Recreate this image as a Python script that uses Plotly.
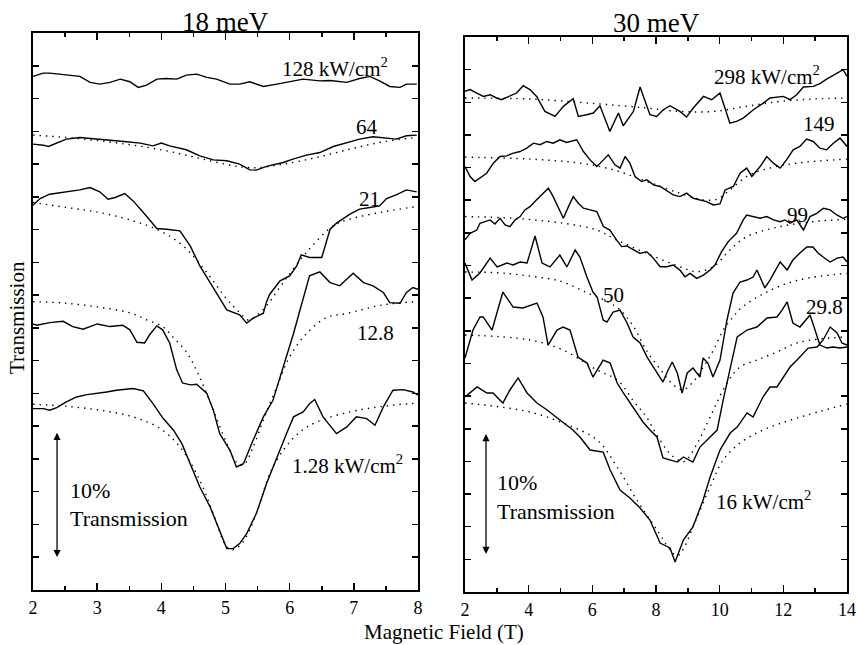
import plotly.graph_objects as go

# ---------------- 18 meV panel (field in T, transmission in %) ----------------
L128_B = [2.0, 2.16, 2.26, 2.52, 2.73, 2.89, 3.04, 3.2, 3.36, 3.51, 3.64, 3.77, 3.93, 4.08, 4.24, 4.39, 4.55, 4.71, 4.86, 5.07, 5.22, 5.38, 5.59, 5.8, 6.0, 6.21, 6.47, 6.63, 6.89, 7.09, 7.25, 7.4, 7.56, 7.72, 7.82, 7.98]
L128_T = [39.19, 39.44, 39.44, 39.29, 39.19, 38.73, 38.60, 38.73, 38.98, 38.78, 38.35, 38.52, 38.98, 39.03, 38.98, 39.29, 39.36, 39.11, 38.98, 38.60, 38.60, 38.78, 38.42, 38.60, 38.78, 38.98, 38.85, 38.88, 38.73, 39.03, 39.19, 38.85, 38.42, 38.35, 38.60, 38.60]

L64_B = [2.0, 2.16, 2.24, 2.37, 2.52, 2.73, 2.94, 3.15, 3.46, 3.67, 3.87, 4.0, 4.13, 4.39, 4.6, 4.81, 5.02, 5.22, 5.38, 5.48, 5.64, 5.9, 6.05, 6.26, 6.47, 6.68, 6.89, 7.09, 7.3, 7.51, 7.66, 7.82, 7.98]
L64_T = [34.02, 33.94, 33.84, 34.10, 34.40, 34.53, 34.45, 34.35, 34.20, 34.10, 33.89, 34.10, 33.89, 33.59, 33.13, 32.82, 32.75, 32.49, 32.06, 32.04, 32.32, 32.62, 32.88, 33.18, 33.38, 33.84, 34.10, 34.40, 34.58, 34.45, 34.40, 34.66, 34.71]
L64_FB = [2.0, 2.52, 3.04, 3.56, 4.08, 4.6, 5.12, 5.33, 5.54, 5.9, 6.42, 6.94, 7.46, 7.98]
L64_FT = [34.71, 34.53, 34.27, 33.94, 33.51, 32.93, 32.37, 32.24, 32.24, 32.49, 33.0, 33.64, 34.2, 34.53]

L21_B = [2.0, 2.11, 2.26, 2.52, 2.73, 2.89, 3.04, 3.17, 3.28, 3.43, 3.56, 3.72, 3.93, 4.08, 4.29, 4.45, 4.6, 4.76, 4.91, 5.02, 5.22, 5.33, 5.43, 5.59, 5.64, 5.69, 5.85, 6.0, 6.11, 6.18, 6.31, 6.5, 6.63, 6.73, 6.94, 7.09, 7.25, 7.4, 7.51, 7.66, 7.82, 7.98]
L21_T = [29.36, 29.87, 30.20, 30.38, 30.53, 30.71, 30.38, 29.82, 29.95, 30.25, 29.69, 28.80, 27.58, 27.53, 27.40, 26.26, 24.73, 23.46, 22.19, 21.37, 20.99, 20.36, 20.74, 21.12, 22.0, 22.57, 23.59, 23.97, 24.73, 25.57, 25.37, 25.37, 27.53, 27.99, 28.68, 29.06, 29.19, 29.31, 29.87, 30.15, 30.53, 30.38]
L21_FB = [2.0, 2.52, 3.04, 3.56, 3.98, 4.34, 4.71, 5.02, 5.22, 5.36, 5.59, 5.9, 6.26, 6.68, 6.94, 7.46, 7.98]
L21_FT = [29.57, 29.19, 28.80, 28.17, 27.40, 26.26, 24.22, 22.19, 21.17, 20.6, 21.42, 23.46, 25.75, 27.79, 28.30, 28.85, 29.26]

L12_B = [2.0, 2.06, 2.26, 2.47, 2.62, 2.78, 3.0, 3.2, 3.4, 3.51, 3.62, 3.74, 3.82, 3.93, 4.02, 4.13, 4.24, 4.33, 4.45, 4.55, 4.71, 4.81, 4.91, 5.07, 5.17, 5.28, 5.43, 5.59, 5.74, 5.9, 6.06, 6.16, 6.31, 6.47, 6.63, 6.78, 6.99, 7.15, 7.3, 7.46, 7.56, 7.72, 7.82, 7.92, 8.0]
L12_T = [20.3, 20.2, 20.4, 20.5, 20.1, 19.9, 20.3, 20.1, 20.2, 19.85, 18.9, 18.85, 19.5, 20.15, 19.85, 18.85, 16.8, 15.8, 15.65, 15.7, 15.0, 13.72, 11.93, 10.66, 9.39, 9.64, 11.42, 13.21, 14.48, 17.02, 19.57, 21.35, 23.97, 24.27, 23.46, 23.21, 24.17, 23.46, 23.21, 22.70, 21.93, 21.88, 22.70, 23.08, 22.95]
L12_FB = [2.0, 2.47, 3.0, 3.51, 3.78, 4.02, 4.18, 4.40, 4.6, 4.81, 5.02, 5.18, 5.28, 5.43, 5.59, 5.80, 6.0, 6.27, 6.58, 6.89, 7.45, 8.0]
L12_FT = [22.0, 21.9, 21.6, 21.15, 20.6, 20.1, 19.3, 18.1, 16.2, 13.74, 11.2, 9.7, 9.54, 10.9, 12.98, 15.5, 17.8, 19.6, 20.8, 21.1, 21.75, 22.0]

L1_B = [2.0, 2.16, 2.26, 2.37, 2.52, 2.68, 2.84, 2.99, 3.15, 3.3, 3.46, 3.56, 3.72, 3.87, 4.03, 4.19, 4.32, 4.45, 4.6, 4.76, 4.91, 5.02, 5.12, 5.22, 5.33, 5.48, 5.64, 5.8, 5.95, 6.06, 6.21, 6.31, 6.39, 6.52, 6.73, 6.89, 7.04, 7.2, 7.33, 7.46, 7.61, 7.77, 7.92, 8.0]
L1_T = [13.84, 13.84, 13.72, 13.92, 14.35, 14.73, 14.91, 14.99, 15.11, 15.24, 15.29, 15.37, 15.19, 14.22, 13.08, 12.19, 11.17, 9.64, 7.86, 6.34, 4.55, 3.16, 3.16, 3.54, 4.30, 5.83, 8.12, 10.15, 11.93, 13.21, 13.59, 14.22, 14.53, 13.21, 11.93, 12.44, 13.21, 13.08, 12.57, 13.97, 15.24, 15.29, 15.11, 14.86]
L1_FB = [2.0, 2.52, 3.04, 3.56, 3.98, 4.29, 4.6, 4.81, 5.02, 5.12, 5.27, 5.48, 5.69, 5.9, 6.16, 6.42, 6.94, 7.46, 8.0]
L1_FT = [14.17, 14.02, 13.72, 13.21, 12.32, 10.92, 8.37, 5.83, 3.28, 3.08, 3.66, 5.83, 8.88, 10.66, 12.06, 12.82, 13.59, 14.02, 14.27]

# ---------------- 30 meV panel ----------------
R298_B = [2.0, 2.16, 2.37, 2.58, 2.79, 2.99, 3.15, 3.41, 3.62, 3.83, 4.04, 4.25, 4.51, 4.83, 5.09, 5.4, 5.56, 5.82, 6.03, 6.24, 6.55, 6.82, 6.97, 7.29, 7.5, 7.81, 8.02, 8.23, 8.44, 8.75, 8.96, 9.17, 9.49, 9.75, 10.01, 10.32, 10.53, 10.74, 11.06, 11.37, 11.58, 12.0, 12.21, 12.42, 12.63, 12.94, 13.15, 13.36, 13.62, 13.88, 14.0]
R298_T = [38.34, 38.47, 38.21, 37.95, 38.08, 37.83, 37.70, 37.95, 38.21, 38.77, 38.47, 37.95, 36.80, 36.42, 37.19, 37.77, 36.42, 36.55, 36.68, 37.24, 35.27, 36.68, 35.70, 36.80, 38.67, 36.55, 36.42, 36.93, 37.24, 36.80, 36.37, 37.06, 37.95, 37.70, 38.21, 35.91, 36.04, 36.29, 36.93, 37.44, 37.83, 37.95, 37.70, 38.08, 38.67, 38.72, 38.93, 39.28, 39.62, 40.0, 39.49]
R298_FB = [2.0, 4.04, 6.14, 7.71, 8.75, 9.8, 10.85, 11.9, 12.94, 14.0]
R298_FT = [37.83, 37.75, 37.39, 37.06, 36.80, 36.80, 37.19, 37.57, 37.75, 37.83]

R149_B = [2.0, 2.16, 2.31, 2.52, 2.68, 2.89, 3.1, 3.31, 3.52, 3.73, 3.94, 4.15, 4.36, 4.57, 4.77, 4.98, 5.19, 5.51, 5.72, 5.93, 6.14, 6.35, 6.5, 6.71, 6.87, 7.03, 7.18, 7.34, 7.55, 7.71, 7.92, 8.13, 8.34, 8.54, 8.75, 8.96, 9.17, 9.38, 9.59, 9.8, 10.01, 10.17, 10.43, 10.64, 10.85, 11.01, 11.27, 11.48, 11.69, 11.9, 12.1, 12.31, 12.52, 12.73, 12.94, 13.15, 13.36, 13.57, 13.78, 14.0]
R149_T = [32.58, 31.82, 31.43, 31.82, 32.07, 32.84, 33.35, 33.40, 33.61, 33.73, 33.99, 34.37, 34.25, 34.50, 34.37, 34.63, 34.42, 34.63, 33.73, 33.09, 32.58, 33.09, 33.48, 32.71, 32.46, 33.35, 32.84, 31.82, 31.43, 31.56, 31.18, 31.05, 30.74, 30.41, 30.28, 30.54, 30.15, 30.03, 29.90, 29.64, 29.72, 30.79, 31.05, 32.07, 32.46, 31.82, 32.58, 33.35, 32.84, 32.46, 33.09, 33.86, 34.12, 34.68, 34.50, 33.99, 33.86, 34.37, 34.76, 34.12]
R149_FB = [2.0, 4.04, 5.61, 6.66, 7.71, 8.75, 9.49, 9.91, 10.32, 10.85, 11.37, 12.42, 14.0]
R149_FT = [33.30, 33.15, 32.84, 32.33, 31.43, 30.54, 30.03, 30.08, 30.79, 31.82, 32.33, 32.84, 33.15]

R99_B = [2.0, 2.16, 2.37, 2.47, 2.63, 2.79, 2.94, 3.1, 3.26, 3.41, 3.57, 3.73, 3.88, 4.04, 4.25, 4.46, 4.62, 4.77, 4.93, 5.09, 5.25, 5.4, 5.56, 5.72, 5.93, 6.14, 6.35, 6.55, 6.76, 6.92, 7.08, 7.29, 7.5, 7.71, 7.92, 8.13, 8.34, 8.54, 8.75, 8.91, 9.07, 9.28, 9.49, 9.7, 9.85, 10.06, 10.27, 10.53, 10.74, 10.85, 11.06, 11.27, 11.48, 11.69, 11.9, 12.05, 12.21, 12.42, 12.63, 12.84, 13.05, 13.26, 13.47, 13.68, 13.88, 14.0]
R99_T = [26.96, 27.47, 27.72, 28.24, 28.36, 28.49, 28.18, 28.62, 28.11, 27.98, 28.49, 28.75, 29.26, 29.51, 30.03, 30.54, 30.92, 30.28, 29.51, 28.62, 29.51, 30.28, 29.77, 29.39, 29.26, 29.13, 27.98, 27.72, 26.96, 26.45, 26.50, 26.19, 25.93, 26.06, 25.55, 24.91, 24.91, 25.04, 24.65, 24.14, 24.40, 24.02, 24.27, 24.65, 25.04, 26.06, 26.83, 27.47, 28.49, 28.87, 28.75, 28.62, 28.75, 28.49, 28.36, 28.49, 28.24, 28.49, 27.72, 28.75, 29.0, 29.39, 29.26, 28.87, 28.62, 28.75]
R99_FB = [2.0, 3.52, 5.09, 6.14, 6.76, 7.71, 8.75, 9.28, 9.8, 10.32, 10.85, 11.9, 12.94, 14.0]
R99_FT = [28.75, 28.62, 28.24, 27.72, 26.96, 25.93, 24.91, 24.53, 24.91, 26.19, 27.21, 27.98, 28.36, 28.54]

R50_B = [2.0, 2.22, 2.47, 2.79, 3.01, 3.32, 3.51, 3.73, 3.95, 4.20, 4.42, 4.67, 4.98, 5.20, 5.46, 5.61, 5.83, 6.02, 6.15, 6.34, 6.46, 6.65, 6.87, 7.09, 7.28, 7.50, 7.72, 7.91, 8.03, 8.22, 8.38, 8.51, 8.67, 8.82, 8.98, 9.16, 9.38, 9.48, 9.63, 9.79, 10.01, 10.23, 10.42, 10.64, 10.86, 11.05, 11.17, 11.27, 11.42, 11.58, 11.80, 11.90, 12.12, 12.30, 12.52, 12.74, 12.93, 13.09, 13.25, 13.47, 13.69, 13.88, 14.0]
R50_T = [25.19, 23.89, 24.43, 25.57, 24.89, 25.19, 25.04, 25.27, 25.19, 27.26, 25.19, 24.89, 25.80, 24.89, 26.19, 25.65, 24.12, 22.97, 22.59, 20.83, 20.67, 21.44, 21.59, 20.60, 19.53, 19.07, 17.99, 17.23, 16.77, 16.08, 17.00, 17.61, 16.77, 15.24, 16.77, 17.15, 16.46, 17.92, 17.53, 16.46, 17.76, 20.83, 22.89, 23.74, 23.89, 24.12, 24.66, 24.12, 23.28, 23.89, 24.89, 25.27, 24.66, 25.42, 25.96, 26.42, 26.42, 25.96, 25.65, 25.27, 25.57, 25.65, 25.27]
R50_FB = [2.0, 3.0, 4.0, 5.0, 5.8, 6.5, 6.87, 7.3, 7.7, 8.15, 8.55, 8.85, 9.17, 9.48, 9.8, 10.1, 10.4, 10.7, 11.5, 12.5, 14.0]
R50_FT = [24.5, 24.45, 24.2, 23.8, 22.95, 22.2, 21.6, 20.3, 18.5, 17.0, 15.85, 15.5, 16.1, 17.2, 18.5, 20.0, 21.0, 21.8, 23.0, 23.9, 24.4]

R29_B = [2.0, 2.25, 2.47, 2.57, 2.85, 3.19, 3.51, 3.82, 4.26, 4.45, 4.61, 4.89, 5.08, 5.30, 5.55, 5.83, 6.02, 6.34, 6.56, 6.78, 6.96, 7.28, 7.59, 7.81, 8.03, 8.22, 8.44, 8.67, 8.86, 9.16, 9.38, 9.70, 9.92, 10.11, 10.33, 10.55, 10.86, 11.17, 11.49, 11.80, 11.96, 12.12, 12.30, 12.52, 12.84, 13.06, 13.15, 13.37, 13.56, 13.78, 14.0]
R29_T = [17.92, 20.06, 21.06, 21.06, 20.06, 22.97, 21.82, 21.75, 22.13, 21.06, 18.91, 20.06, 20.29, 20.06, 17.99, 17.53, 16.46, 17.76, 17.53, 16.00, 15.31, 14.17, 13.02, 12.40, 11.87, 10.26, 10.11, 9.95, 10.34, 9.95, 11.10, 11.87, 12.40, 14.70, 17.23, 19.53, 20.06, 20.29, 20.98, 21.06, 21.59, 22.21, 20.60, 20.29, 21.21, 19.53, 18.91, 18.68, 18.76, 18.68, 18.76]
R29_FB = [2.0, 4.04, 5.08, 6.15, 6.8, 7.3, 7.7, 8.03, 8.4, 8.7, 8.9, 9.3, 9.7, 10.23, 10.64, 11.17, 11.80, 12.52, 14.0]
R29_FT = [19.68, 19.30, 18.53, 17.0, 16.2, 14.6, 13.4, 12.0, 10.7, 10.1, 10.0, 11.4, 13.4, 16.0, 17.23, 17.76, 18.38, 19.14, 19.53]

R16_B = [2.0, 2.38, 2.69, 2.88, 3.19, 3.41, 3.67, 3.95, 4.26, 4.58, 4.98, 5.39, 5.61, 5.93, 6.34, 6.56, 6.87, 7.18, 7.50, 7.81, 8.13, 8.44, 8.60, 8.86, 9.16, 9.48, 9.70, 10.01, 10.33, 10.55, 10.86, 11.05, 11.36, 11.58, 11.80, 11.99, 12.21, 12.43, 12.62, 12.78, 13.06, 13.25, 13.47, 13.69, 13.84, 14.0]
R16_T = [14.93, 15.70, 15.24, 15.24, 14.47, 15.47, 16.39, 15.24, 14.47, 13.94, 13.17, 12.40, 11.87, 10.87, 10.72, 9.34, 7.81, 7.20, 6.43, 5.51, 3.75, 3.37, 2.30, 3.98, 4.98, 7.04, 8.81, 10.87, 12.17, 12.63, 13.71, 13.40, 14.93, 15.70, 15.70, 16.46, 17.23, 17.76, 18.30, 18.68, 18.76, 19.30, 20.29, 19.83, 19.07, 18.91]
R16_FB = [2.0, 3.0, 4.04, 5.08, 6.15, 6.78, 7.40, 8.03, 8.54, 8.7, 8.86, 9.29, 9.70, 10.11, 10.64, 11.36, 12.43, 14.0]
R16_FT = [14.47, 14.2, 13.78, 12.94, 11.64, 9.57, 7.04, 4.75, 2.95, 2.8, 3.3, 5.74, 8.04, 10.11, 11.41, 12.40, 13.32, 14.39]

# labels: (text, field, transmission)
LEFT_LABELS = [("128 kW/cm<sup>2</sup>", 6.70, 39.9), ("64", 7.20, 35.34), ("21", 7.25, 29.85),
               ("12.8", 7.34, 19.62), ("1.28 kW/cm<sup>2</sup>", 6.90, 9.54)]
RIGHT_LABELS = [("298 kW/cm<sup>2</sup>", 11.49, 39.59), ("149", 13.12, 35.8), ("99", 12.46, 28.9),
                ("50", 6.68, 22.74), ("29.8", 13.28, 21.86), ("16 kW/cm<sup>2</sup>", 11.39, 7.04)]
PANEL_TITLES = ["18 meV", "30 meV"]

FONT = "Liberation Serif"
fig = go.Figure()

def add_data(xs, ys, xa, ya):
    fig.add_trace(go.Scatter(x=xs, y=ys, mode="lines", xaxis=xa, yaxis=ya,
                             line=dict(color="black", width=1.4), showlegend=False))

def add_fit(xs, ys, xa, ya):
    fig.add_trace(go.Scatter(x=xs, y=ys, mode="lines", xaxis=xa, yaxis=ya,
                             line=dict(color="black", width=1.4, dash="1.4px,5px",
                                       shape="spline", smoothing=1.0), showlegend=False))

for xs, ys in [(L64_FB, L64_FT), (L21_FB, L21_FT), (L12_FB, L12_FT), (L1_FB, L1_FT)]:
    add_fit(xs, ys, "x", "y")
for xs, ys in [(L128_B, L128_T), (L64_B, L64_T), (L21_B, L21_T), (L12_B, L12_T), (L1_B, L1_T)]:
    add_data(xs, ys, "x", "y")
for xs, ys in [(R298_FB, R298_FT), (R149_FB, R149_FT), (R99_FB, R99_FT), (R50_FB, R50_FT),
               (R29_FB, R29_FT), (R16_FB, R16_FT)]:
    add_fit(xs, ys, "x2", "y2")
for xs, ys in [(R298_B, R298_T), (R149_B, R149_T), (R99_B, R99_T), (R50_B, R50_T),
               (R29_B, R29_T), (R16_B, R16_T)]:
    add_data(xs, ys, "x2", "y2")

def txt(text, x, y, xref, yref, size=21, xanchor="center", angle=0):
    return dict(text=text, x=x, y=y, xref=xref, yref=yref, showarrow=False,
                xanchor=xanchor, yanchor="middle", textangle=angle,
                font=dict(size=size, family=FONT, color="black"))

ann = []
for t, bx, ty in LEFT_LABELS:
    ann.append(txt(t, bx, ty, "x", "y"))
for t, bx, ty in RIGHT_LABELS:
    ann.append(txt(t, bx, ty, "x2", "y2"))

# 10% scale bars
for xr, yr, ax_, y0, y1 in [("x", "y", 2.375, 2.4, 12.0), ("x2", "y2", 2.66, 2.8, 12.1)]:
    ann.append(dict(x=ax_, y=y1, ax=ax_, ay=y0, xref=xr, yref=yr, axref=xr, ayref=yr,
                    text="", showarrow=True, arrowhead=2, arrowside="end+start",
                    arrowsize=1.1, arrowwidth=1.3, arrowcolor="black"))
ann.append(txt("10%", 2.545, 7.63, "x", "y", size=22, xanchor="left"))
ann.append(txt("Transmission", 2.545, 5.42, "x", "y", size=22, xanchor="left"))
ann.append(txt("10%", 2.94, 8.35, "x2", "y2", size=22, xanchor="left"))
ann.append(txt("Transmission", 2.94, 6.13, "x2", "y2", size=22, xanchor="left"))

# titles and axis labels
ann.append(txt(PANEL_TITLES[0], 225.5 / 856, 1 - 22 / 645, "paper", "paper", size=27))
ann.append(txt(PANEL_TITLES[1], 656 / 856, 1 - 23 / 645, "paper", "paper", size=27))
ann.append(txt("Magnetic Field (T)", 444 / 856, 1 - 632 / 645, "paper", "paper", size=21))
ann.append(txt("Transmission", 17 / 856, 1 - 318 / 645, "paper", "paper", size=21, angle=-90))

common_x = dict(showline=True, linewidth=2, linecolor="black", mirror="ticks", ticks="inside",
                ticklen=7, tickwidth=1.5, tickcolor="black", showgrid=False, zeroline=False,
                automargin=False, tickfont=dict(size=18, family=FONT, color="black"))
common_y = dict(showline=True, linewidth=2, linecolor="black", mirror="ticks", ticks="inside",
                ticklen=6, tickwidth=1.5, tickcolor="black", showgrid=False, zeroline=False,
                automargin=False, showticklabels=False, range=[0, 42.5], dtick=2.5, tick0=0)

fig.update_layout(
    template="none",
    width=856, height=645, margin=dict(l=0, r=0, t=0, b=0, autoexpand=False),
    paper_bgcolor="white", plot_bgcolor="white", showlegend=False,
    font=dict(family=FONT, color="black"),
    xaxis=dict(domain=[33 / 856, 418 / 856], range=[2, 8], dtick=1, tick0=2, anchor="y",
               minor=dict(dtick=0.5, ticklen=4, ticks="inside", tickcolor="black", tickwidth=1.5,
                          showgrid=False),
               **common_x),
    yaxis=dict(domain=[55 / 645, 612 / 645], anchor="x", **common_y),
    xaxis2=dict(domain=[465 / 856, 847 / 856], range=[2, 14], dtick=2, tick0=2, anchor="y2",
                minor=dict(dtick=1, ticklen=4, ticks="inside", tickcolor="black", tickwidth=1.5,
                           showgrid=False),
                **common_x),
    yaxis2=dict(domain=[53 / 645, 608 / 645], anchor="x2", **common_y),
    annotations=ann,
)

fig.write_html("out.html", config={"displayModeBar": False, "staticPlot": True},
               post_script="document.body.style.margin='0';document.body.style.padding='0';"
                           "document.body.style.overflow='hidden';")
